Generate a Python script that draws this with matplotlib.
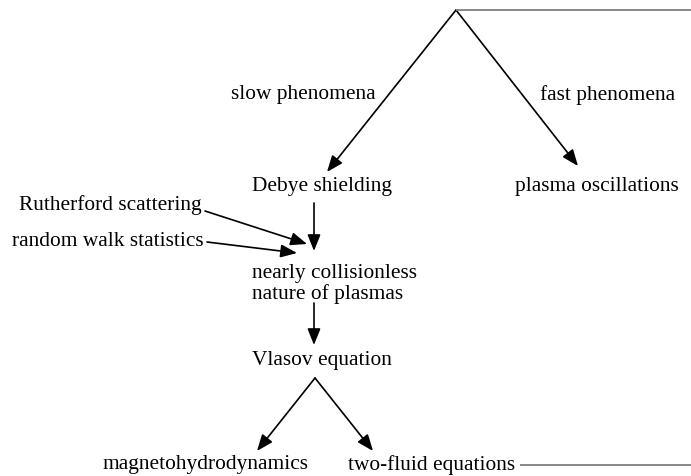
import matplotlib.pyplot as plt
from matplotlib.patches import FancyArrowPatch

# node labels of the diagram
labels = [
    "slow phenomena",
    "fast phenomena",
    "Debye shielding",
    "plasma oscillations",
    "Rutherford scattering",
    "random walk statistics",
    "nearly collisionless\nnature of plasmas",
    "Vlasov equation",
    "magnetohydrodynamics",
    "two-fluid equations",
]

# layout in pixel units (x, y from top-left), left edge of each text
pos = {
    "slow phenomena": (231, 95),
    "fast phenomena": (540, 95),
    "Debye shielding": (252, 187),
    "plasma oscillations": (515, 187),
    "Rutherford scattering": (19, 205),
    "random walk statistics": (12, 242),
    "nearly collisionless\nnature of plasmas": (252, 284),
    "Vlasov equation": (252, 360),
    "magnetohydrodynamics": (102, 465),
    "two-fluid equations": (348, 465),
}

arrows = [
    ((456, 10), (327, 172)),
    ((456, 10), (578, 166)),
    ((205, 211), (307, 244)),
    ((207, 242), (297, 253)),
    ((314, 203), (314, 251)),
    ((314, 303), (314, 345)),
    ((315, 378), (257, 451)),
    ((315, 378), (373, 451)),
]

gray_lines = [
    ((456, 10), (691, 10)),
    ((520, 465), (691, 465)),
]

plt.rcParams["font.family"] = ["Liberation Serif", "DejaVu Serif"]

fig = plt.figure(figsize=(6.91, 4.76), dpi=100)
ax = fig.add_axes([0, 0, 1, 1])
ax.set_xlim(0, 691)
ax.set_ylim(476, 0)
ax.axis("off")

for lab in labels:
    x, y = pos[lab]
    ax.text(x, y, lab, fontsize=15.4, ha="left", va="center",
            linespacing=1.1, color="black")

for (x0, y0), (x1, y1) in gray_lines:
    ax.plot([x0, x1], [y0, y1], color="#7f7f7f", lw=1.3,
            solid_capstyle="butt")

for start, end in arrows:
    arr = FancyArrowPatch(start, end,
                          arrowstyle="-|>,head_length=0.55,head_width=0.22",
                          mutation_scale=18, color="black", lw=1.2,
                          shrinkA=0, shrinkB=0)
    ax.add_patch(arr)

fig.savefig("out.png", dpi=100)
